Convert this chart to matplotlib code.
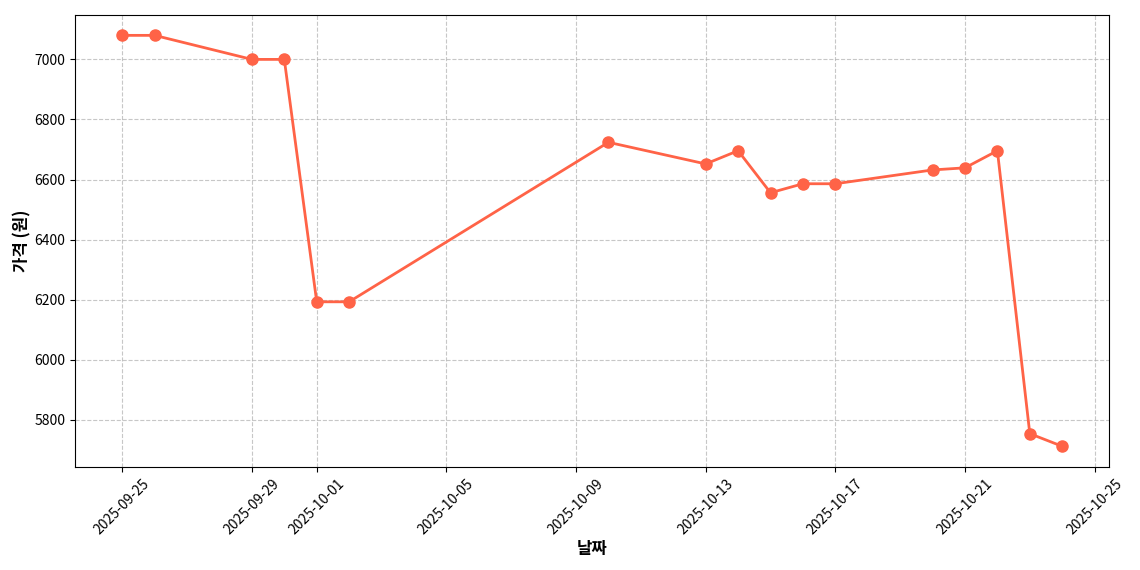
import matplotlib
matplotlib.use("Agg")
import matplotlib.pyplot as plt
import matplotlib.dates as mdates
import pandas as pd

plt.rcParams['font.family'] = ['Noto Sans CJK KR', 'DejaVu Sans']
plt.rcParams['axes.unicode_minus'] = False

dates = pd.to_datetime([
    "2025-09-25", "2025-09-26", "2025-09-29", "2025-09-30",
    "2025-10-01", "2025-10-02", "2025-10-10", "2025-10-13",
    "2025-10-14", "2025-10-15", "2025-10-16", "2025-10-17",
    "2025-10-20", "2025-10-21", "2025-10-22", "2025-10-23",
    "2025-10-24",
])
prices = [7080, 7080, 7000, 7000, 6193, 6193, 6724, 6652,
          6696, 6556, 6586, 6586, 6632, 6639, 6696, 5754, 5712]

fig, ax = plt.subplots(figsize=(11.4, 5.7), dpi=100)
ax.plot(dates, prices, color="tomato", linewidth=2, marker="o", markersize=8)

ax.set_xlabel("날짜", fontsize=12, fontweight="bold", labelpad=2)
ax.set_ylabel("가격 (원)", fontsize=12, fontweight="bold", labelpad=2)
ax.grid(True, linestyle="--", alpha=0.7)

ax.xaxis.set_major_locator(mdates.DayLocator(bymonthday=[1, 5, 9, 13, 17, 21, 25, 29]))
ax.xaxis.set_major_formatter(mdates.DateFormatter("%Y-%m-%d"))
plt.xticks(rotation=45)

fig.subplots_adjust(left=0.066, right=0.973, top=0.974, bottom=0.181)
fig.savefig("out.png", dpi=100)
